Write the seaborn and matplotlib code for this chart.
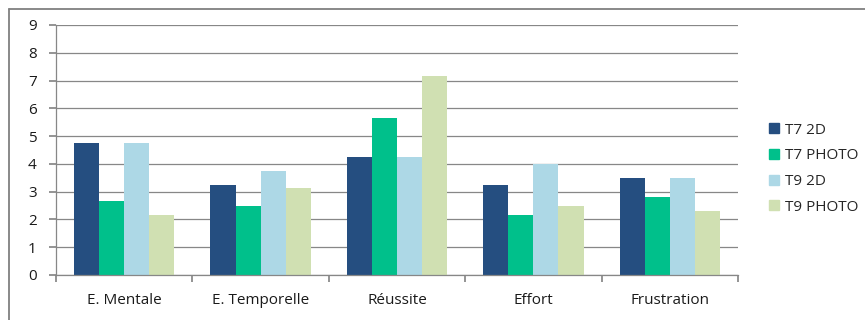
import matplotlib
matplotlib.use("Agg")
import matplotlib.pyplot as plt
import seaborn as sns
import pandas as pd
from matplotlib.lines import Line2D

categories = ["E. Mentale", "E. Temporelle", "Réussite", "Effort", "Frustration"]
series = ["T7 2D", "T7 PHOTO", "T9 2D", "T9 PHOTO"]
t7_2d = [4.75, 3.25, 4.25, 3.25, 3.5]
t7_photo = [2.67, 2.5, 5.65, 2.17, 2.82]
t9_2d = [4.75, 3.75, 4.25, 4.0, 3.5]
t9_photo = [2.17, 3.13, 7.15, 2.5, 2.32]
colors = ["#254E80", "#00C08B", "#ADD8E6", "#D0E0B2"]
yticks = list(range(0, 10))

rows = []
for s, vals in zip(series, [t7_2d, t7_photo, t9_2d, t9_photo]):
    for c, v in zip(categories, vals):
        rows.append({"cat": c, "series": s, "val": v})
df = pd.DataFrame(rows)

sns.set_theme(style="white")
plt.rcParams["font.family"] = ["Open Sans", "DejaVu Sans"]

fig = plt.figure(figsize=(8.65, 3.2), dpi=100)
ax = fig.add_axes([56 / 865, 1 - 275 / 320, (738 - 56) / 865, (275 - 25) / 320])

sns.barplot(data=df, x="cat", y="val", hue="series", order=categories,
            hue_order=series, palette=colors, saturation=1, width=0.735,
            edgecolor="none", linewidth=0, ax=ax, legend=False)

fs = 11
ax.set_ylim(0, 9)
ax.set_xlim(-0.5, len(categories) - 0.5)
ax.set_yticks(yticks)
ax.set_yticklabels([str(t) for t in yticks], fontsize=fs, color="#1a1a1a")
ax.yaxis.grid(True, color="#878787", linewidth=0.9)
ax.set_axisbelow(True)
ax.set_xlabel("")
ax.set_ylabel("")

# category labels and boundary ticks
ax.set_xticks([i - 0.5 for i in range(len(categories) + 1)])
ax.set_xticklabels([])
ax.set_xticks(range(len(categories)), minor=True)
ax.set_xticklabels(categories, minor=True, fontsize=fs, color="#1a1a1a")
ax.tick_params(axis="x", which="major", length=5, color="#878787", direction="out", bottom=True)
ax.tick_params(axis="x", which="minor", length=0, pad=13)
ax.tick_params(axis="y", length=5, color="#878787", direction="out", left=True, pad=9)

for side in ["top", "right"]:
    ax.spines[side].set_visible(False)
for side in ["left", "bottom"]:
    ax.spines[side].set_color("#878787")
    ax.spines[side].set_linewidth(0.9)

handles = [Line2D([0], [0], marker="s", linestyle="none", markersize=7,
                  markerfacecolor=c, markeredgecolor=c) for c in colors]
fig.legend(handles, series, loc="upper left", bbox_to_anchor=(761 / 865, 1 - 115 / 320),
           frameon=False, fontsize=fs, handlelength=0.7, handletextpad=0.35,
           labelspacing=0.7, borderpad=0)

# outer frame
fig.add_artist(Line2D([9 / 865, 9 / 865], [0, 1 - 8.5 / 320], transform=fig.transFigure,
                      color="#808080", linewidth=1.3))
fig.add_artist(Line2D([9 / 865, 1], [1 - 8.5 / 320, 1 - 8.5 / 320], transform=fig.transFigure,
                      color="#808080", linewidth=1.3))

fig.savefig("out.png", dpi=100)
